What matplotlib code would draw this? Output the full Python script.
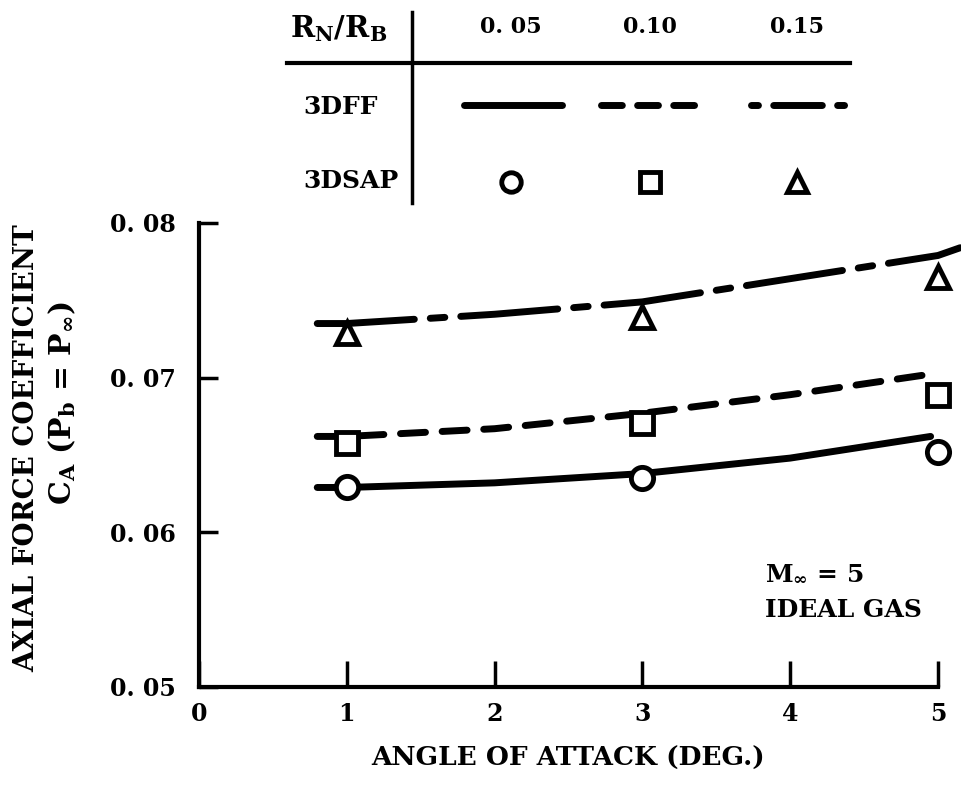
import matplotlib
matplotlib.use('Agg')
import matplotlib.pyplot as plt
from matplotlib.lines import Line2D

plt.rcParams['font.family'] = ['DejaVu Serif']
plt.rcParams['font.weight'] = 'bold'
plt.rcParams['axes.labelweight'] = 'bold'
plt.rcParams['mathtext.fontset'] = 'custom'
plt.rcParams['mathtext.rm'] = 'DejaVu Serif:bold'
plt.rcParams['mathtext.it'] = 'DejaVu Serif:bold'
plt.rcParams['mathtext.default'] = 'rm'

# 3DSAP points
alpha_pts = [1, 3, 5]
sap_005 = [0.0629, 0.0635, 0.0652]
sap_010 = [0.0658, 0.0671, 0.0689]
sap_015 = [0.0729, 0.0739, 0.0765]

# 3DFF curves
ff_alpha_005 = [0.8, 1, 2, 3, 4, 4.95]
ff_005 = [0.0629, 0.0629, 0.0632, 0.0638, 0.0648, 0.0662]
ff_alpha_010 = [0.8, 1, 2, 3, 4, 4.93]
ff_010 = [0.0662, 0.0662, 0.0667, 0.0677, 0.0689, 0.0702]
ff_alpha_015 = [0.8, 1, 2, 3, 4, 5, 5.15]
ff_015 = [0.0735, 0.0735, 0.0741, 0.0749, 0.0764, 0.0779, 0.0784]

ratios = ['0. 05', '0.10', '0.15']
xticks = [0, 1, 2, 3, 4, 5]
yticks = [0.05, 0.06, 0.07, 0.08]
ytick_labels = ['0. 05', '0. 06', '0. 07', '0. 08']

W, H = 962, 792
fig = plt.figure(figsize=(W / 100, H / 100), dpi=100)
ax = fig.add_axes([199 / W, 1 - 687 / H, 739 / W, 464 / H])

LW = 5
solid = '-'
dashed = (0, (3.6, 2.4))
dashdot = (0, (14, 2.3, 2.1, 2.3))
line_kw = dict(color='black', lw=LW, solid_capstyle='round',
               dash_capstyle='round', clip_on=False, zorder=2)
mk_kw = dict(ls='none', mfc='white', mec='black', mew=3.5, ms=16,
             clip_on=False, zorder=3)

ax.plot(ff_alpha_005, ff_005, ls=solid, **line_kw)
ax.plot(ff_alpha_010, ff_010, ls=dashed, **line_kw)
ax.plot(ff_alpha_015, ff_015, ls=dashdot, **line_kw)
ax.plot(alpha_pts, sap_005, marker='o', **mk_kw)
ax.plot(alpha_pts, sap_010, marker='s', **mk_kw)
ax.plot(alpha_pts, sap_015, marker='^', **mk_kw)

ax.set_xlim(0, 5)
ax.set_ylim(0.05, 0.08)
ax.set_xticks(xticks)
ax.set_xticklabels([str(t) for t in xticks])
ax.set_yticks(yticks)
ax.set_yticklabels(ytick_labels)
for s in ['top', 'right']:
    ax.spines[s].set_visible(False)
for s in ['left', 'bottom']:
    ax.spines[s].set_linewidth(3)
ax.tick_params(axis='y', direction='in', length=14, width=2.5, pad=17, labelsize=17)
ax.tick_params(axis='x', direction='in', length=19, width=2.5, pad=11, labelsize=17)
ax.set_xlabel('ANGLE OF ATTACK (DEG.)', fontsize=19, labelpad=14)

fig.text(27 / W, 1 - 448 / H, 'AXIAL FORCE COEFFICIENT', rotation=90,
         ha='center', va='center', fontsize=20)
fig.text(62 / W, 1 - 403 / H, r'C$_A$ (P$_b$ = P$_\infty$)', rotation=90,
         ha='center', va='center', fontsize=21.5)

ax.text(0.766, 0.246, r'M$_\infty$ = 5', transform=ax.transAxes,
        ha='left', va='center', fontsize=18)
ax.text(0.766, 0.166, 'IDEAL GAS', transform=ax.transAxes,
        ha='left', va='center', fontsize=18)


# legend table (pixel positions of the layout)
def fx(x):
    return x / W


def fy(y):
    return 1 - y / H


fig.add_artist(Line2D([fx(287), fx(850)], [fy(63), fy(63)], color='black', lw=3))
fig.add_artist(Line2D([fx(412), fx(412)], [fy(12), fy(203)], color='black', lw=2.5))
fig.text(fx(290), fy(29), r'R$_N$/R$_B$', ha='left', va='center', fontsize=21)
fig.text(fx(303), fy(107), '3DFF', ha='left', va='center', fontsize=18)
fig.text(fx(303), fy(181), '3DSAP', ha='left', va='center', fontsize=18)

col_x = [511, 650, 797]
seg = [(464, 562), (601, 699), (751, 848)]
styles = [solid, (0, (3.0, 2.2)), (0, (1.0, 2.2, 7.0, 2.2))]
markers = ['o', 's', '^']
for i in range(3):
    fig.text(fx(col_x[i]), fy(27), ratios[i], ha='center', va='center', fontsize=16)
    fig.add_artist(Line2D([fx(seg[i][0]), fx(seg[i][1])], [fy(105), fy(105)],
                          color='black', lw=LW, ls=styles[i],
                          solid_capstyle='round', dash_capstyle='round'))
    fig.add_artist(Line2D([fx(col_x[i])], [fy(182)], marker=markers[i],
                          ls='none', mfc='white', mec='black', mew=3.5, ms=14))

fig.savefig('out.png', dpi=100)
